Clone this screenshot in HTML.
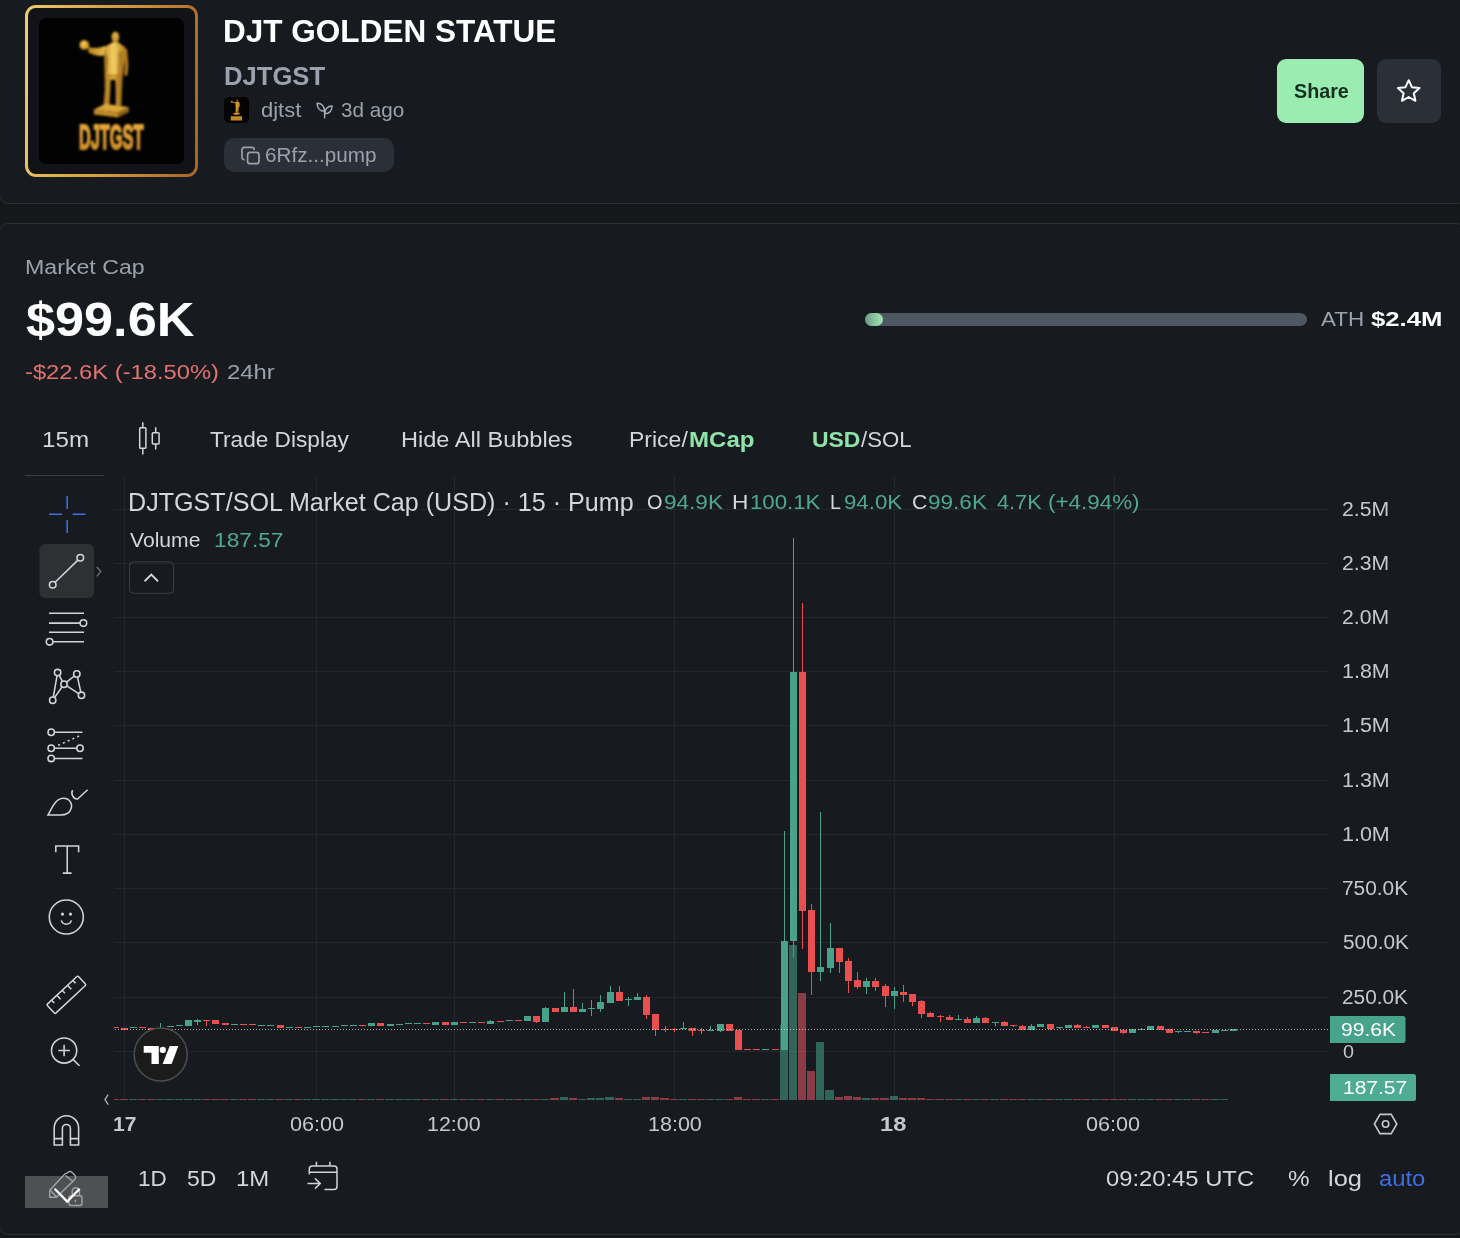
<!DOCTYPE html>
<html>
<head>
<meta charset="utf-8">
<title>DJT GOLDEN STATUE (DJTGST)</title>
<style>
html,body{margin:0;padding:0;overflow:hidden;}
body{width:1460px;height:1238px;overflow:hidden;background:#15171b;font-family:"Liberation Sans",sans-serif;position:relative;}
.card{position:absolute;background:#171a1f;border:1px solid #2d2f34;box-sizing:border-box;}
#card1{left:-1px;top:-14px;width:1466px;height:218px;border-radius:9px;}
#card2{left:-1px;top:223px;width:1466px;height:1012px;border-radius:9px;}
.t{position:absolute;white-space:nowrap;line-height:1;transform-origin:0 0;}
.abs{position:absolute;}
#ov{position:absolute;left:0;top:0;width:1460px;height:1238px;}
</style>
</head>
<body>
<div class="card" id="card1"></div>
<div class="card" id="card2"></div>

<div class="abs" id="imgbox" style="left:25px;top:5px;width:173px;height:172px;border-radius:11px;background:linear-gradient(97deg,#edcd72 0%,#e3b350 22%,#d09b3f 52%,#b7782f 82%,#a4642a 100%);"></div>
<div class="abs" id="imgin" style="left:28px;top:8px;width:167px;height:166px;border-radius:8px;background:#121317;"></div>
<div class="abs" id="imgblk" style="left:39px;top:18px;width:145px;height:146px;border-radius:7px;background:#020202;"></div>
<div class="abs" id="ava" style="left:224px;top:97px;width:25px;height:26px;border-radius:5px;background:#040302;"></div>
<div class="abs" id="pill" style="left:224px;top:138px;width:170px;height:34px;border-radius:10px;background:#2a2f38;"></div>
<div class="abs" id="share" style="left:1277px;top:59px;width:87px;height:64px;border-radius:9px;background:#9aecb1;"></div>
<div class="abs" id="starb" style="left:1377px;top:59px;width:64px;height:64px;border-radius:9px;background:#2a2f38;"></div>
<div class="abs" id="bar" style="left:865px;top:313px;width:442px;height:13px;border-radius:7px;background:#4d5762;"></div>
<div class="abs" id="barf" style="left:865px;top:313px;width:18px;height:13px;border-radius:7px;background:linear-gradient(90deg,#6d9a83,#a3e8b4);"></div>
<div class="abs" id="uline" style="left:25px;top:475px;width:79px;height:1px;background:#3a3e46;"></div>

<svg id="ov" width="1460" height="1238" viewBox="0 0 1460 1238">
<g stroke="#23262c" stroke-width="1" shape-rendering="crispEdges">
<path d="M114 509.5H1328"/>
<path d="M114 563.5H1328"/>
<path d="M114 617.5H1328"/>
<path d="M114 671.5H1328"/>
<path d="M114 725.5H1328"/>
<path d="M114 780.5H1328"/>
<path d="M114 834.5H1328"/>
<path d="M114 888.5H1328"/>
<path d="M114 942.5H1328"/>
<path d="M114 997.5H1328"/>
<path d="M114 1051.5H1328"/>
<path d="M124.5 476V1100"/>
<path d="M316.5 476V1100"/>
<path d="M454.5 476V1100"/>
<path d="M674.5 476V1100"/>
<path d="M894.5 476V1100"/>
<path d="M1114.5 476V1100"/>
</g>
<g shape-rendering="crispEdges"><rect x="114" y="1098.6" width="5" height="1.4" fill="rgba(253,94,109,0.5)"/>
<rect x="120" y="1098.6" width="8" height="1.4" fill="rgba(253,94,109,0.5)"/>
<rect x="129" y="1098.6" width="8" height="1.4" fill="rgba(71,176,151,0.5)"/>
<rect x="138" y="1098.6" width="8" height="1.4" fill="rgba(253,94,109,0.5)"/>
<rect x="147" y="1098.6" width="8" height="1.4" fill="rgba(253,94,109,0.5)"/>
<rect x="156" y="1098.6" width="8" height="1.4" fill="rgba(71,176,151,0.5)"/>
<rect x="165" y="1098.6" width="9" height="1.4" fill="rgba(71,176,151,0.5)"/>
<rect x="175" y="1098.6" width="8" height="1.4" fill="rgba(71,176,151,0.5)"/>
<rect x="184" y="1098.6" width="8" height="1.4" fill="rgba(71,176,151,0.5)"/>
<rect x="193" y="1098.6" width="8" height="1.4" fill="rgba(71,176,151,0.5)"/>
<rect x="202" y="1098.6" width="8" height="1.4" fill="rgba(253,94,109,0.5)"/>
<rect x="211" y="1098.6" width="8" height="1.4" fill="rgba(253,94,109,0.5)"/>
<rect x="220" y="1098.6" width="9" height="1.4" fill="rgba(253,94,109,0.5)"/>
<rect x="230" y="1098.6" width="8" height="1.4" fill="rgba(71,176,151,0.5)"/>
<rect x="239" y="1098.6" width="8" height="1.4" fill="rgba(253,94,109,0.5)"/>
<rect x="248" y="1098.6" width="8" height="1.4" fill="rgba(253,94,109,0.5)"/>
<rect x="257" y="1098.6" width="8" height="1.4" fill="rgba(71,176,151,0.5)"/>
<rect x="266" y="1098.6" width="8" height="1.4" fill="rgba(71,176,151,0.5)"/>
<rect x="275" y="1098.6" width="9" height="1.4" fill="rgba(253,94,109,0.5)"/>
<rect x="285" y="1098.6" width="8" height="1.4" fill="rgba(71,176,151,0.5)"/>
<rect x="294" y="1098.6" width="8" height="1.4" fill="rgba(253,94,109,0.5)"/>
<rect x="303" y="1098.6" width="8" height="1.4" fill="rgba(71,176,151,0.5)"/>
<rect x="312" y="1098.6" width="8" height="1.4" fill="rgba(71,176,151,0.5)"/>
<rect x="321" y="1098.6" width="8" height="1.4" fill="rgba(71,176,151,0.5)"/>
<rect x="330" y="1098.6" width="9" height="1.4" fill="rgba(71,176,151,0.5)"/>
<rect x="340" y="1098.6" width="8" height="1.4" fill="rgba(71,176,151,0.5)"/>
<rect x="349" y="1098.6" width="8" height="1.4" fill="rgba(71,176,151,0.5)"/>
<rect x="358" y="1098.6" width="8" height="1.4" fill="rgba(253,94,109,0.5)"/>
<rect x="367" y="1098.6" width="8" height="1.4" fill="rgba(71,176,151,0.5)"/>
<rect x="376" y="1098.6" width="8" height="1.4" fill="rgba(253,94,109,0.5)"/>
<rect x="385" y="1098.6" width="9" height="1.4" fill="rgba(71,176,151,0.5)"/>
<rect x="395" y="1098.6" width="8" height="1.4" fill="rgba(71,176,151,0.5)"/>
<rect x="404" y="1098.6" width="8" height="1.4" fill="rgba(71,176,151,0.5)"/>
<rect x="413" y="1098.6" width="8" height="1.4" fill="rgba(71,176,151,0.5)"/>
<rect x="422" y="1098.6" width="8" height="1.4" fill="rgba(253,94,109,0.5)"/>
<rect x="431" y="1098.6" width="8" height="1.4" fill="rgba(71,176,151,0.5)"/>
<rect x="440" y="1098.6" width="9" height="1.4" fill="rgba(253,94,109,0.5)"/>
<rect x="450" y="1098.6" width="8" height="1.4" fill="rgba(71,176,151,0.5)"/>
<rect x="459" y="1098.6" width="8" height="1.4" fill="rgba(253,94,109,0.5)"/>
<rect x="468" y="1098.6" width="8" height="1.4" fill="rgba(71,176,151,0.5)"/>
<rect x="477" y="1098.6" width="8" height="1.4" fill="rgba(253,94,109,0.5)"/>
<rect x="486" y="1098.6" width="8" height="1.4" fill="rgba(71,176,151,0.5)"/>
<rect x="495" y="1098.6" width="9" height="1.4" fill="rgba(253,94,109,0.5)"/>
<rect x="505" y="1098.6" width="8" height="1.4" fill="rgba(71,176,151,0.5)"/>
<rect x="514" y="1098.6" width="8" height="1.4" fill="rgba(253,94,109,0.5)"/>
<rect x="523" y="1098.6" width="8" height="1.4" fill="rgba(71,176,151,0.5)"/>
<rect x="532" y="1098.6" width="8" height="1.4" fill="rgba(253,94,109,0.5)"/>
<rect x="541" y="1098.6" width="8" height="1.4" fill="rgba(71,176,151,0.5)"/>
<rect x="550" y="1097.6" width="9" height="2.4" fill="rgba(253,94,109,0.5)"/>
<rect x="560" y="1097.2" width="8" height="2.8" fill="rgba(71,176,151,0.5)"/>
<rect x="569" y="1097.6" width="8" height="2.4" fill="rgba(253,94,109,0.5)"/>
<rect x="578" y="1098.6" width="8" height="1.4" fill="rgba(71,176,151,0.5)"/>
<rect x="587" y="1097.6" width="8" height="2.4" fill="rgba(71,176,151,0.5)"/>
<rect x="596" y="1098.0" width="8" height="2.0" fill="rgba(71,176,151,0.5)"/>
<rect x="605" y="1097.2" width="9" height="2.8" fill="rgba(71,176,151,0.5)"/>
<rect x="615" y="1097.6" width="8" height="2.4" fill="rgba(253,94,109,0.5)"/>
<rect x="624" y="1098.6" width="8" height="1.4" fill="rgba(71,176,151,0.5)"/>
<rect x="633" y="1098.6" width="8" height="1.4" fill="rgba(71,176,151,0.5)"/>
<rect x="642" y="1097.4" width="8" height="2.6" fill="rgba(253,94,109,0.5)"/>
<rect x="651" y="1097.0" width="8" height="3.0" fill="rgba(253,94,109,0.5)"/>
<rect x="660" y="1098.0" width="9" height="2.0" fill="rgba(253,94,109,0.5)"/>
<rect x="670" y="1098.6" width="8" height="1.4" fill="rgba(253,94,109,0.5)"/>
<rect x="679" y="1098.6" width="8" height="1.4" fill="rgba(71,176,151,0.5)"/>
<rect x="688" y="1098.6" width="8" height="1.4" fill="rgba(253,94,109,0.5)"/>
<rect x="697" y="1098.6" width="8" height="1.4" fill="rgba(253,94,109,0.5)"/>
<rect x="706" y="1098.6" width="8" height="1.4" fill="rgba(71,176,151,0.5)"/>
<rect x="715" y="1098.6" width="9" height="1.4" fill="rgba(71,176,151,0.5)"/>
<rect x="725" y="1098.6" width="8" height="1.4" fill="rgba(253,94,109,0.5)"/>
<rect x="734" y="1097.0" width="8" height="3.0" fill="rgba(253,94,109,0.5)"/>
<rect x="743" y="1098.6" width="8" height="1.4" fill="rgba(253,94,109,0.5)"/>
<rect x="752" y="1098.6" width="8" height="1.4" fill="rgba(253,94,109,0.5)"/>
<rect x="761" y="1098.6" width="8" height="1.4" fill="rgba(71,176,151,0.5)"/>
<rect x="770" y="1098.6" width="9" height="1.4" fill="rgba(253,94,109,0.5)"/>
<rect x="780" y="1025.0" width="8" height="75.0" fill="rgba(71,176,151,0.5)"/>
<rect x="789" y="945.0" width="8" height="155.0" fill="rgba(71,176,151,0.5)"/>
<rect x="798" y="993.0" width="8" height="107.0" fill="rgba(253,94,109,0.5)"/>
<rect x="807" y="1071.0" width="8" height="29.0" fill="rgba(253,94,109,0.5)"/>
<rect x="816" y="1042.0" width="8" height="58.0" fill="rgba(71,176,151,0.5)"/>
<rect x="825" y="1090.4" width="9" height="9.6" fill="rgba(71,176,151,0.5)"/>
<rect x="835" y="1096.5" width="8" height="3.5" fill="rgba(253,94,109,0.5)"/>
<rect x="844" y="1096.0" width="8" height="4.0" fill="rgba(253,94,109,0.5)"/>
<rect x="853" y="1096.8" width="8" height="3.2" fill="rgba(253,94,109,0.5)"/>
<rect x="862" y="1097.6" width="8" height="2.4" fill="rgba(71,176,151,0.5)"/>
<rect x="871" y="1097.6" width="8" height="2.4" fill="rgba(253,94,109,0.5)"/>
<rect x="880" y="1097.6" width="9" height="2.4" fill="rgba(253,94,109,0.5)"/>
<rect x="890" y="1096.4" width="8" height="3.6" fill="rgba(71,176,151,0.5)"/>
<rect x="899" y="1097.6" width="8" height="2.4" fill="rgba(253,94,109,0.5)"/>
<rect x="908" y="1097.8" width="8" height="2.2" fill="rgba(253,94,109,0.5)"/>
<rect x="917" y="1097.8" width="8" height="2.2" fill="rgba(253,94,109,0.5)"/>
<rect x="926" y="1098.6" width="8" height="1.4" fill="rgba(253,94,109,0.5)"/>
<rect x="935" y="1098.6" width="9" height="1.4" fill="rgba(253,94,109,0.5)"/>
<rect x="945" y="1098.6" width="8" height="1.4" fill="rgba(253,94,109,0.5)"/>
<rect x="954" y="1098.6" width="8" height="1.4" fill="rgba(71,176,151,0.5)"/>
<rect x="963" y="1098.6" width="8" height="1.4" fill="rgba(253,94,109,0.5)"/>
<rect x="972" y="1098.6" width="8" height="1.4" fill="rgba(71,176,151,0.5)"/>
<rect x="981" y="1098.6" width="8" height="1.4" fill="rgba(253,94,109,0.5)"/>
<rect x="990" y="1098.6" width="9" height="1.4" fill="rgba(71,176,151,0.5)"/>
<rect x="1000" y="1098.6" width="8" height="1.4" fill="rgba(253,94,109,0.5)"/>
<rect x="1009" y="1098.6" width="8" height="1.4" fill="rgba(253,94,109,0.5)"/>
<rect x="1018" y="1098.6" width="8" height="1.4" fill="rgba(253,94,109,0.5)"/>
<rect x="1027" y="1098.6" width="8" height="1.4" fill="rgba(71,176,151,0.5)"/>
<rect x="1036" y="1098.6" width="8" height="1.4" fill="rgba(71,176,151,0.5)"/>
<rect x="1045" y="1098.6" width="9" height="1.4" fill="rgba(253,94,109,0.5)"/>
<rect x="1055" y="1098.6" width="8" height="1.4" fill="rgba(71,176,151,0.5)"/>
<rect x="1064" y="1098.6" width="8" height="1.4" fill="rgba(71,176,151,0.5)"/>
<rect x="1073" y="1098.6" width="8" height="1.4" fill="rgba(253,94,109,0.5)"/>
<rect x="1082" y="1098.6" width="8" height="1.4" fill="rgba(253,94,109,0.5)"/>
<rect x="1091" y="1098.6" width="8" height="1.4" fill="rgba(71,176,151,0.5)"/>
<rect x="1100" y="1098.6" width="9" height="1.4" fill="rgba(253,94,109,0.5)"/>
<rect x="1110" y="1098.6" width="8" height="1.4" fill="rgba(253,94,109,0.5)"/>
<rect x="1119" y="1098.6" width="8" height="1.4" fill="rgba(253,94,109,0.5)"/>
<rect x="1128" y="1098.6" width="8" height="1.4" fill="rgba(71,176,151,0.5)"/>
<rect x="1137" y="1098.6" width="8" height="1.4" fill="rgba(71,176,151,0.5)"/>
<rect x="1146" y="1098.6" width="8" height="1.4" fill="rgba(71,176,151,0.5)"/>
<rect x="1155" y="1098.6" width="9" height="1.4" fill="rgba(253,94,109,0.5)"/>
<rect x="1165" y="1098.6" width="8" height="1.4" fill="rgba(253,94,109,0.5)"/>
<rect x="1174" y="1098.6" width="8" height="1.4" fill="rgba(71,176,151,0.5)"/>
<rect x="1183" y="1098.6" width="8" height="1.4" fill="rgba(71,176,151,0.5)"/>
<rect x="1192" y="1098.6" width="8" height="1.4" fill="rgba(253,94,109,0.5)"/>
<rect x="1201" y="1098.6" width="8" height="1.4" fill="rgba(253,94,109,0.5)"/>
<rect x="1210" y="1098.6" width="9" height="1.4" fill="rgba(71,176,151,0.5)"/>
<rect x="1220" y="1098.6" width="8" height="1.4" fill="rgba(71,176,151,0.5)"/>
<rect x="114" y="1027.3" width="5" height="1.0" fill="#e94f4f"/>
<rect x="121" y="1027.6" width="7" height="2.0" fill="#e94f4f"/>
<rect x="130" y="1027.0" width="7" height="1.0" fill="#48a28a"/>
<rect x="139" y="1027.0" width="7" height="1.0" fill="#e94f4f"/>
<rect x="148" y="1028.0" width="7" height="2.2" fill="#e94f4f"/>
<rect x="160" y="1022.6" width="1" height="5.4" fill="#48a28a"/>
<rect x="157" y="1027.5" width="7" height="1.0" fill="#48a28a"/>
<rect x="167" y="1026.0" width="7" height="1.0" fill="#48a28a"/>
<rect x="176" y="1025.0" width="7" height="1.0" fill="#48a28a"/>
<rect x="185" y="1020.3" width="7" height="5.7" fill="#48a28a"/>
<rect x="197" y="1019.3" width="1" height="5.6" fill="#48a28a"/>
<rect x="194" y="1019.9" width="7" height="2.0" fill="#48a28a"/>
<rect x="206" y="1020.0" width="1" height="5.6" fill="#e94f4f"/>
<rect x="203" y="1020.0" width="7" height="1.0" fill="#e94f4f"/>
<rect x="212" y="1020.0" width="7" height="4.1" fill="#e94f4f"/>
<rect x="222" y="1022.6" width="7" height="2.3" fill="#e94f4f"/>
<rect x="231" y="1023.8" width="7" height="1.0" fill="#48a28a"/>
<rect x="240" y="1023.8" width="7" height="1.0" fill="#e94f4f"/>
<rect x="249" y="1023.8" width="7" height="1.0" fill="#e94f4f"/>
<rect x="258" y="1025.0" width="7" height="1.0" fill="#48a28a"/>
<rect x="267" y="1025.0" width="7" height="1.0" fill="#48a28a"/>
<rect x="277" y="1024.9" width="7" height="3.0" fill="#e94f4f"/>
<rect x="286" y="1027.2" width="7" height="1.0" fill="#48a28a"/>
<rect x="295" y="1027.2" width="7" height="1.0" fill="#e94f4f"/>
<rect x="304" y="1027.2" width="7" height="1.0" fill="#48a28a"/>
<rect x="313" y="1026.3" width="7" height="1.0" fill="#48a28a"/>
<rect x="322" y="1026.0" width="7" height="1.0" fill="#48a28a"/>
<rect x="332" y="1026.0" width="7" height="1.0" fill="#48a28a"/>
<rect x="341" y="1025.1" width="7" height="1.0" fill="#48a28a"/>
<rect x="350" y="1025.1" width="7" height="1.0" fill="#48a28a"/>
<rect x="359" y="1025.1" width="7" height="1.0" fill="#e94f4f"/>
<rect x="368" y="1023.2" width="7" height="2.7" fill="#48a28a"/>
<rect x="377" y="1023.2" width="7" height="2.7" fill="#e94f4f"/>
<rect x="387" y="1024.0" width="7" height="1.9" fill="#48a28a"/>
<rect x="396" y="1024.0" width="7" height="1.0" fill="#48a28a"/>
<rect x="405" y="1023.0" width="7" height="1.0" fill="#48a28a"/>
<rect x="414" y="1023.0" width="7" height="1.0" fill="#48a28a"/>
<rect x="423" y="1023.0" width="7" height="1.0" fill="#e94f4f"/>
<rect x="432" y="1022.1" width="7" height="2.7" fill="#48a28a"/>
<rect x="442" y="1022.1" width="7" height="2.7" fill="#e94f4f"/>
<rect x="451" y="1022.1" width="7" height="2.7" fill="#48a28a"/>
<rect x="460" y="1022.0" width="7" height="1.0" fill="#e94f4f"/>
<rect x="469" y="1022.0" width="7" height="1.0" fill="#48a28a"/>
<rect x="478" y="1022.0" width="7" height="1.0" fill="#e94f4f"/>
<rect x="490" y="1020.2" width="1" height="3.7" fill="#48a28a"/>
<rect x="487" y="1021.2" width="7" height="2.7" fill="#48a28a"/>
<rect x="497" y="1021.0" width="7" height="1.0" fill="#e94f4f"/>
<rect x="506" y="1020.0" width="7" height="1.0" fill="#48a28a"/>
<rect x="515" y="1020.0" width="7" height="1.0" fill="#e94f4f"/>
<rect x="524" y="1016.1" width="7" height="4.8" fill="#48a28a"/>
<rect x="536" y="1015.8" width="1" height="6.8" fill="#e94f4f"/>
<rect x="533" y="1015.8" width="7" height="6.2" fill="#e94f4f"/>
<rect x="545" y="1007.2" width="1" height="14.8" fill="#48a28a"/>
<rect x="542" y="1007.9" width="7" height="14.1" fill="#48a28a"/>
<rect x="552" y="1008.2" width="7" height="3.7" fill="#e94f4f"/>
<rect x="564" y="991.9" width="1" height="20.0" fill="#48a28a"/>
<rect x="561" y="1006.9" width="7" height="5.0" fill="#48a28a"/>
<rect x="573" y="988.9" width="1" height="23.0" fill="#e94f4f"/>
<rect x="570" y="1006.9" width="7" height="5.0" fill="#e94f4f"/>
<rect x="582" y="1002.9" width="1" height="9.0" fill="#48a28a"/>
<rect x="579" y="1009.1" width="7" height="2.8" fill="#48a28a"/>
<rect x="591" y="999.9" width="1" height="16.1" fill="#48a28a"/>
<rect x="588" y="1008.0" width="7" height="1.0" fill="#48a28a"/>
<rect x="600" y="994.9" width="1" height="17.0" fill="#48a28a"/>
<rect x="597" y="1002.1" width="7" height="6.8" fill="#48a28a"/>
<rect x="610" y="985.9" width="1" height="17.0" fill="#48a28a"/>
<rect x="607" y="992.0" width="7" height="10.9" fill="#48a28a"/>
<rect x="619" y="985.9" width="1" height="15.0" fill="#e94f4f"/>
<rect x="616" y="992.0" width="7" height="8.9" fill="#e94f4f"/>
<rect x="628" y="996.9" width="1" height="9.0" fill="#48a28a"/>
<rect x="625" y="998.6" width="7" height="1.0" fill="#48a28a"/>
<rect x="637" y="993.1" width="1" height="6.8" fill="#48a28a"/>
<rect x="634" y="997.2" width="7" height="2.7" fill="#48a28a"/>
<rect x="646" y="994.9" width="1" height="24.1" fill="#e94f4f"/>
<rect x="643" y="997.2" width="7" height="17.7" fill="#e94f4f"/>
<rect x="655" y="1013.9" width="1" height="21.8" fill="#e94f4f"/>
<rect x="652" y="1013.9" width="7" height="15.7" fill="#e94f4f"/>
<rect x="665" y="1026.2" width="1" height="5.8" fill="#e94f4f"/>
<rect x="662" y="1028.7" width="7" height="1.0" fill="#e94f4f"/>
<rect x="674" y="1027.7" width="1" height="4.6" fill="#e94f4f"/>
<rect x="671" y="1028.7" width="7" height="1.0" fill="#e94f4f"/>
<rect x="683" y="1022.0" width="1" height="7.3" fill="#48a28a"/>
<rect x="680" y="1028.3" width="7" height="1.0" fill="#48a28a"/>
<rect x="692" y="1028.0" width="1" height="7.7" fill="#e94f4f"/>
<rect x="689" y="1028.0" width="7" height="2.5" fill="#e94f4f"/>
<rect x="701" y="1028.0" width="1" height="5.8" fill="#e94f4f"/>
<rect x="698" y="1029.8" width="7" height="1.0" fill="#e94f4f"/>
<rect x="710" y="1025.9" width="1" height="4.9" fill="#48a28a"/>
<rect x="707" y="1029.8" width="7" height="1.0" fill="#48a28a"/>
<rect x="720" y="1024.0" width="1" height="7.5" fill="#48a28a"/>
<rect x="717" y="1024.0" width="7" height="6.8" fill="#48a28a"/>
<rect x="726" y="1024.0" width="7" height="6.8" fill="#e94f4f"/>
<rect x="735" y="1030.0" width="7" height="20.0" fill="#e94f4f"/>
<rect x="744" y="1049.0" width="7" height="1.0" fill="#e94f4f"/>
<rect x="753" y="1049.0" width="7" height="1.0" fill="#e94f4f"/>
<rect x="762" y="1049.0" width="7" height="1.0" fill="#48a28a"/>
<rect x="772" y="1049.0" width="7" height="1.0" fill="#e94f4f"/>
<rect x="784" y="831.0" width="1" height="219.3" fill="#48a28a"/>
<rect x="781" y="941.0" width="7" height="109.3" fill="#48a28a"/>
<rect x="793" y="537.8" width="1" height="420.6" fill="#48a28a"/>
<rect x="790" y="672.1" width="7" height="269.3" fill="#48a28a"/>
<rect x="802" y="602.8" width="1" height="346.2" fill="#e94f4f"/>
<rect x="799" y="672.1" width="7" height="238.8" fill="#e94f4f"/>
<rect x="811" y="904.1" width="1" height="91.2" fill="#e94f4f"/>
<rect x="808" y="910.1" width="7" height="61.5" fill="#e94f4f"/>
<rect x="820" y="812.1" width="1" height="168.6" fill="#48a28a"/>
<rect x="817" y="967.1" width="7" height="4.5" fill="#48a28a"/>
<rect x="830" y="923.2" width="1" height="49.5" fill="#48a28a"/>
<rect x="827" y="948.1" width="7" height="19.6" fill="#48a28a"/>
<rect x="839" y="948.1" width="1" height="24.6" fill="#e94f4f"/>
<rect x="836" y="948.1" width="7" height="13.7" fill="#e94f4f"/>
<rect x="848" y="958.4" width="1" height="34.3" fill="#e94f4f"/>
<rect x="845" y="961.1" width="7" height="19.6" fill="#e94f4f"/>
<rect x="857" y="972.2" width="1" height="16.6" fill="#e94f4f"/>
<rect x="854" y="980.2" width="7" height="6.5" fill="#e94f4f"/>
<rect x="866" y="978.3" width="1" height="15.5" fill="#48a28a"/>
<rect x="863" y="981.3" width="7" height="5.4" fill="#48a28a"/>
<rect x="875" y="978.3" width="1" height="12.5" fill="#e94f4f"/>
<rect x="872" y="981.3" width="7" height="5.4" fill="#e94f4f"/>
<rect x="885" y="984.3" width="1" height="22.6" fill="#e94f4f"/>
<rect x="882" y="986.2" width="7" height="9.8" fill="#e94f4f"/>
<rect x="894" y="987.3" width="1" height="21.5" fill="#48a28a"/>
<rect x="891" y="991.2" width="7" height="4.8" fill="#48a28a"/>
<rect x="903" y="985.2" width="1" height="16.6" fill="#e94f4f"/>
<rect x="900" y="991.5" width="7" height="3.3" fill="#e94f4f"/>
<rect x="912" y="994.2" width="1" height="11.6" fill="#e94f4f"/>
<rect x="909" y="994.2" width="7" height="7.6" fill="#e94f4f"/>
<rect x="921" y="1000.3" width="1" height="17.6" fill="#e94f4f"/>
<rect x="918" y="1001.0" width="7" height="12.8" fill="#e94f4f"/>
<rect x="930" y="1012.2" width="1" height="4.6" fill="#e94f4f"/>
<rect x="927" y="1013.1" width="7" height="3.7" fill="#e94f4f"/>
<rect x="940" y="1015.3" width="1" height="6.2" fill="#e94f4f"/>
<rect x="937" y="1016.0" width="7" height="1.0" fill="#e94f4f"/>
<rect x="949" y="1015.1" width="1" height="4.8" fill="#e94f4f"/>
<rect x="946" y="1016.9" width="7" height="3.0" fill="#e94f4f"/>
<rect x="958" y="1015.1" width="1" height="4.9" fill="#48a28a"/>
<rect x="955" y="1019.0" width="7" height="1.0" fill="#48a28a"/>
<rect x="967" y="1017.3" width="1" height="5.6" fill="#e94f4f"/>
<rect x="964" y="1018.8" width="7" height="4.1" fill="#e94f4f"/>
<rect x="976" y="1016.3" width="1" height="6.6" fill="#48a28a"/>
<rect x="973" y="1018.1" width="7" height="4.8" fill="#48a28a"/>
<rect x="985" y="1017.3" width="1" height="5.6" fill="#e94f4f"/>
<rect x="982" y="1018.1" width="7" height="4.8" fill="#e94f4f"/>
<rect x="995" y="1021.9" width="1" height="3.7" fill="#48a28a"/>
<rect x="992" y="1021.9" width="7" height="1.0" fill="#48a28a"/>
<rect x="1004" y="1020.8" width="1" height="5.1" fill="#e94f4f"/>
<rect x="1001" y="1021.9" width="7" height="4.0" fill="#e94f4f"/>
<rect x="1013" y="1024.9" width="1" height="1.9" fill="#e94f4f"/>
<rect x="1010" y="1024.9" width="7" height="1.0" fill="#e94f4f"/>
<rect x="1022" y="1025.3" width="1" height="4.5" fill="#e94f4f"/>
<rect x="1019" y="1026.1" width="7" height="3.7" fill="#e94f4f"/>
<rect x="1031" y="1024.1" width="1" height="5.7" fill="#48a28a"/>
<rect x="1028" y="1026.1" width="7" height="3.7" fill="#48a28a"/>
<rect x="1037" y="1024.1" width="7" height="2.7" fill="#48a28a"/>
<rect x="1050" y="1024.1" width="1" height="5.6" fill="#e94f4f"/>
<rect x="1047" y="1024.1" width="7" height="4.5" fill="#e94f4f"/>
<rect x="1059" y="1027.0" width="1" height="1.7" fill="#48a28a"/>
<rect x="1056" y="1027.0" width="7" height="1.0" fill="#48a28a"/>
<rect x="1065" y="1025.2" width="7" height="2.7" fill="#48a28a"/>
<rect x="1077" y="1023.8" width="1" height="4.1" fill="#e94f4f"/>
<rect x="1074" y="1024.9" width="7" height="3.0" fill="#e94f4f"/>
<rect x="1086" y="1025.9" width="1" height="2.3" fill="#e94f4f"/>
<rect x="1083" y="1027.2" width="7" height="1.0" fill="#e94f4f"/>
<rect x="1092" y="1025.2" width="7" height="2.7" fill="#48a28a"/>
<rect x="1102" y="1025.2" width="7" height="2.7" fill="#e94f4f"/>
<rect x="1111" y="1027.1" width="7" height="4.1" fill="#e94f4f"/>
<rect x="1123" y="1029.8" width="1" height="4.6" fill="#e94f4f"/>
<rect x="1120" y="1029.8" width="7" height="3.1" fill="#e94f4f"/>
<rect x="1129" y="1029.4" width="7" height="3.5" fill="#48a28a"/>
<rect x="1141" y="1027.9" width="1" height="2.1" fill="#48a28a"/>
<rect x="1138" y="1029.0" width="7" height="1.0" fill="#48a28a"/>
<rect x="1147" y="1026.2" width="7" height="3.6" fill="#48a28a"/>
<rect x="1157" y="1026.2" width="7" height="3.6" fill="#e94f4f"/>
<rect x="1166" y="1029.4" width="7" height="3.5" fill="#e94f4f"/>
<rect x="1178" y="1031.0" width="1" height="2.0" fill="#48a28a"/>
<rect x="1175" y="1031.0" width="7" height="1.0" fill="#48a28a"/>
<rect x="1184" y="1031.0" width="7" height="1.0" fill="#48a28a"/>
<rect x="1196" y="1030.9" width="1" height="2.7" fill="#e94f4f"/>
<rect x="1193" y="1030.9" width="7" height="2.0" fill="#e94f4f"/>
<rect x="1202" y="1032.0" width="7" height="1.0" fill="#e94f4f"/>
<rect x="1212" y="1029.8" width="7" height="3.1" fill="#48a28a"/>
<rect x="1221" y="1029.5" width="7" height="1.0" fill="#48a28a"/>
<rect x="1230" y="1028.6" width="7" height="2.0" fill="#48a28a"/></g>
<path d="M115 1029.5H1329" stroke="rgba(232,234,234,0.68)" stroke-width="1" stroke-dasharray="1 2" shape-rendering="crispEdges"/>
<path d="M1330 1016H1403A2.5 2.5 0 0 1 1405.5 1018.5V1040.5A2.5 2.5 0 0 1 1403 1043H1330Z" fill="#47a38a"/>
<path d="M1330 1074H1413.5A2.5 2.5 0 0 1 1416 1076.5V1098.5A2.5 2.5 0 0 1 1413.5 1101H1330Z" fill="#4eac93"/>
<g stroke="#3c6fe0" stroke-width="1.55" fill="none"><path d="M67.2 496v13M67.2 520v13M49 514.3h13M72.6 514.3h13"/></g>
<rect x="39.3" y="544" width="54.7" height="54" rx="6" fill="#2f3033"/>
<g stroke="#d1d4dc" stroke-width="1.55" fill="none"><circle cx="52.7" cy="584.7" r="3.3"/><circle cx="80.3" cy="557.7" r="3.3"/><path d="M55.1 582.3L77.9 560.1"/></g>
<path d="M96.8 566.8l4 4.8l-4 4.8" stroke="#787b86" stroke-width="1.2" fill="none"/>
<g stroke="#d1d4dc" stroke-width="1.55" fill="none"><path d="M49 613.3h35M49 623.1h31M49 632.2h35M53 641.8h31"/><circle cx="83.4" cy="623.1" r="3.3"/><circle cx="49.6" cy="641.8" r="3.3"/></g>
<g stroke="#d1d4dc" stroke-width="1.55" fill="none"><circle cx="57.6" cy="672.6" r="3.2"/><circle cx="76.8" cy="674" r="3.2"/><circle cx="64" cy="684.2" r="3.2"/><circle cx="52.7" cy="700.2" r="3.2"/><circle cx="81.5" cy="695.3" r="3.2"/><path d="M53.3 697L57 675.8M59.2 675.4L62.4 681.4M66.5 682.2L74.3 676M77.5 677.1L80.8 692.2M54.6 697.6L62.1 686.8M66.8 685.8L78.7 693.7"/></g>
<g stroke="#d1d4dc" stroke-width="1.55" fill="none"><circle cx="51.2" cy="732.2" r="3.2"/><circle cx="51.2" cy="748.2" r="3.2"/><circle cx="80" cy="748.2" r="3.2"/><circle cx="51.2" cy="758.4" r="3.2"/><path d="M54.4 732.2H82.5M54.4 748.2H76.8M54.4 758.4H82.5"/><path d="M58.2 745.3L79.1 736" stroke-dasharray="2 3.2"/></g>
<g stroke="#d1d4dc" stroke-width="1.55" fill="none"><path d="M48 815C52 808 55.5 798.6 63 798.2C69.5 798 72.6 803.5 71.2 808.2C69.8 813 66 815 60.5 815Z"/><path d="M72.6 790.2C70.5 794 73.5 799.5 77.6 799L87.6 789.8"/></g>
<g stroke="#d1d4dc" stroke-width="1.55" fill="none"><path d="M55.8 852.3V846H78.6V852.3M67.2 846V873M62.8 873.1H71.6"/></g>
<g stroke="#d1d4dc" stroke-width="1.55" fill="none"><circle cx="66.3" cy="917" r="17"/><path d="M61.3 920.4C62.8 925.4 69.9 925.4 71.4 920.4"/></g><circle cx="62.5" cy="914.1" r="1.6" fill="#d1d4dc"/><circle cx="70.5" cy="914.1" r="1.6" fill="#d1d4dc"/>
<g stroke="#d1d4dc" stroke-width="1.55" fill="none" transform="translate(66.4 994.8) rotate(-43)"><rect x="-21.3" y="-6.2" width="42.6" height="12.4" rx="1.4"/><path d="M-14.5 -6.2v4M-7.3 -6.2v5.5M0 -6.2v4M7.3 -6.2v5.5M14.5 -6.2v4"/></g>
<g stroke="#d1d4dc" stroke-width="1.55" fill="none"><circle cx="64.1" cy="1050.5" r="12.6"/><path d="M58.3 1050.5h11.6M64.1 1044.7v11.6M73.2 1059.6L79.5 1065.8"/></g>
<g stroke="#d1d4dc" stroke-width="1.55" fill="none"><path d="M54.2 1145V1128A12.2 12.2 0 0 1 78.6 1128V1145H70.4V1128.4A4 4 0 0 0 62.4 1128.4V1145Z"/><path d="M54.2 1138.6H62.4M70.4 1138.6H78.6"/></g>
<rect x="25" y="1176" width="83" height="32" fill="#4f5052"/>
<g stroke="#a3a4a6" stroke-width="1.4" fill="none" stroke-linejoin="round"><path d="M64.6 1174.2L49.7 1190.3V1197.3H56.5L74.4 1179.7A3.5 3.5 0 0 0 74.4 1174.8L72.4 1172.8A3.5 3.5 0 0 0 67.5 1172.8Z"/><path d="M65.6 1175.6L72.8 1181.2"/><path d="M50.5 1190.6L56.2 1196.6"/><rect x="69" y="1195.7" width="13" height="9.8" rx="2.2"/><path d="M72.2 1195.7V1191.3A3.6 3.6 0 0 1 79.4 1191.3V1195.7"/><path d="M75.4 1199.6V1202.2"/></g>
<path d="M54.6 1188.8L67.2 1201.6L79.7 1188.8" stroke="#ffffff" stroke-width="2.3" fill="none"/>
<rect x="129.5" y="561.8" width="44" height="31.5" rx="4" fill="none" stroke="#3a3d45" stroke-width="1"/>
<path d="M144.6 581.2L151.3 574.6L158 581.2" stroke="#d1d4dc" stroke-width="1.9" fill="none"/>
<g stroke="#d4d6dc" stroke-width="1.5" fill="none"><rect x="139.7" y="427.8" width="6.2" height="20.5" rx="0.8"/><path d="M142.8 422.2V427.8M142.8 448.3V454.5"/><rect x="152.3" y="432.8" width="6.8" height="11.1" rx="0.8"/><path d="M155.7 427.3V432.8M155.7 443.9V449.4"/></g>
<path d="M108.2 1094.5L105 1099.6L108.2 1104.7" stroke="#b2b5be" stroke-width="1.3" fill="none"/>
<g stroke="#d1d4dc" stroke-width="1.5" fill="none"><path d="M309.3 1174.5V1169A3 3 0 0 1 312.3 1166H334A3 3 0 0 1 337 1169V1186.6A3 3 0 0 1 334 1189.6H324.5"/><path d="M309.3 1172.3H337M316.4 1161.8V1166M329.9 1161.8V1166"/><path d="M307.5 1183.5H320M315 1178.4L320.2 1183.5L315 1188.6"/></g>
<g stroke="#c5c8ce" stroke-width="1.6" fill="none"><path d="M1374.4 1124L1380 1114.4H1391.2L1396.8 1124L1391.2 1133.6H1380Z"/><circle cx="1385.6" cy="1124" r="3.2"/></g>
<circle cx="160.7" cy="1054.5" r="26.5" fill="#1c1b1b" stroke="#4c4d50" stroke-width="1.5"/>
<g fill="#ffffff"><path d="M143.7 1046.1H158.8V1064.1H151.5V1052.8H143.7Z"/><circle cx="162.8" cy="1049.9" r="3.1"/><path d="M169.7 1046.1H178.4L171.6 1064.1H162.6Z"/></g>
<path d="M1408.7 80.2L1411.9 87.2L1419.5 88.1L1413.8 93.3L1415.4 100.8L1408.7 97L1402 100.8L1403.6 93.3L1397.9 88.1L1405.5 87.2Z" stroke="#ffffff" stroke-width="2" fill="none" stroke-linejoin="round"/>
<g stroke="#9ba1ad" stroke-width="1.7" fill="none"><rect x="247.6" y="152.3" width="11.4" height="11.4" rx="2.5"/><path d="M244.6 159.6H244.2A2.2 2.2 0 0 1 242 157.4V149.6A2.2 2.2 0 0 1 244.2 147.4H252A2.2 2.2 0 0 1 254.2 149.6V150"/></g>
<g stroke="#a3a9b5" stroke-width="1.5" fill="none" stroke-linecap="round" stroke-linejoin="round"><path d="M324.6 110.6V117.7"/><path d="M324.5 111.3C320.3 111.3 317.2 108.4 317.1 103.3C321.4 103.1 324.6 106 324.5 111.3Z"/><path d="M324.8 113.8C324.6 109.4 327.5 106 332 106C332.2 110.5 329.3 113.9 324.8 113.8Z"/></g>
<defs>
<linearGradient id="sgold" gradientUnits="userSpaceOnUse" x1="103" y1="0" x2="130" y2="0"><stop offset="0" stop-color="#c8922c"/><stop offset="0.4" stop-color="#f4d062"/><stop offset="0.75" stop-color="#c08a26"/><stop offset="1" stop-color="#8c5e14"/></linearGradient>
<linearGradient id="sarm" gradientUnits="userSpaceOnUse" x1="88" y1="0" x2="106" y2="0"><stop offset="0" stop-color="#b8821f"/><stop offset="1" stop-color="#e9bd4c"/></linearGradient>
<linearGradient id="sleg" gradientUnits="userSpaceOnUse" x1="103" y1="0" x2="124" y2="0"><stop offset="0" stop-color="#a87420"/><stop offset="0.5" stop-color="#d7a138"/><stop offset="1" stop-color="#8c5e14"/></linearGradient>
<linearGradient id="sgold2" x1="0" y1="0" x2="0" y2="1"><stop offset="0" stop-color="#ecad40"/><stop offset="1" stop-color="#c98824"/></linearGradient>
<filter id="sbl" x="-20%" y="-20%" width="140%" height="140%"><feGaussianBlur stdDeviation="0.8"/></filter>
</defs>
<g filter="url(#sbl)">
<circle cx="84.3" cy="44.9" r="4.9" fill="#d39a30"/>
<circle cx="83.6" cy="44" r="2.6" fill="#efc14e"/>
<path d="M88.4 46.8Q96 49.8 105.4 45.8L104.8 55.6Q97 57.2 88.2 52.2Z" fill="url(#sarm)"/>
<path d="M105.2 46.5L109 44.6L112.5 42.3H118.5L121 44.5L124.8 47.1L125.4 55L123.8 66L122.8 76H104.8L104.3 62L104.4 54Z" fill="url(#sgold)"/><path d="M104.4 50L108.5 58L107 75H104.8Z" fill="#9a6a1a" opacity="0.75"/><path d="M118 52L123.5 50L122.8 75H117.5Z" fill="#9a6a1a" opacity="0.55"/>
<path d="M124.8 47.1L127.2 50L128.4 65L127.6 74.6L125.6 76.4L124.2 74L124.8 66L124 56Z" fill="#b07c22"/>
<path d="M104.8 75H110.8L110.2 90L109.4 104.6L103.4 105.6L104.8 90Z" fill="url(#sleg)"/>
<path d="M115.2 75H122.8L122 90L121.4 105.6L115.8 106.2L115.8 90Z" fill="url(#sleg)"/>
<path d="M104.8 74H122.8V78L115.2 80H110.8L104.8 78Z" fill="url(#sleg)"/>
<ellipse cx="115.4" cy="37" rx="3.9" ry="5.5" fill="#c8942e"/>
<ellipse cx="115" cy="35.8" rx="2.2" ry="3" fill="#dcaa40"/>
<path d="M93.9 109.6L105.5 103.8L129 107.2L118 112.6Z" fill="#d9a63a"/>
<path d="M93.9 109.6L118 112.6V117.6L93.9 114.4Z" fill="#c08a28"/>
<path d="M118 112.6L129 107.2V112L118 117.6Z" fill="#8c6016"/>
<text x="79" y="149.2" font-family="Liberation Sans" font-weight="bold" font-size="35" textLength="64.4" lengthAdjust="spacingAndGlyphs" fill="url(#sgold2)" stroke="url(#sgold2)" stroke-width="2" stroke-linejoin="round">DJTGST</text>
</g>
<g transform="translate(224 97) scale(0.1724 0.178) translate(-39 -18)"><g>
<circle cx="84.7" cy="44.6" r="5.3" fill="#d9a033"/>
<path d="M88 46.5L104.5 47.5L108 44.2L122 43.5L128 48L130 66L128.5 75L125.5 76L125.5 60L123.5 78L122.5 106H116.5L115.5 82L113.5 106H106.5L106.5 78L105.5 55L103 51.5L89 50Z" fill="#d49a2c"/>
<ellipse cx="115.4" cy="36.6" rx="3.7" ry="5" fill="#c9922b"/>
<path d="M94 109.5L104 106H124L130 108.5V114L120 118H100L94 115Z" fill="#d49a2c"/>
<rect x="78" y="126" width="66" height="24" fill="#c18a25"/>
</g></g>
</svg>
<div class="t" id="title" style="left:223.18px;top:15.08px;font-size:32.03px;font-weight:bold;color:#ffffff;transform:scaleX(0.9848);">DJT GOLDEN STATUE</div>
<div class="t" id="ticker" style="left:223.77px;top:62.98px;font-size:26.38px;font-weight:bold;color:#9ba1ad;transform:scaleX(0.9718);">DJTGST</div>
<div class="t" id="user" style="left:261.34px;top:99.14px;font-size:21.01px;font-weight:normal;color:#9ba1ad;transform:scaleX(1.0455);">djtst</div>
<div class="t" id="ago" style="left:340.57px;top:99.14px;font-size:21.01px;font-weight:normal;color:#9ba1ad;transform:scaleX(0.9825);">3d ago</div>
<div class="t" id="addr" style="left:265.41px;top:144.76px;font-size:20.87px;font-weight:normal;color:#9ba1ad;transform:scaleX(0.9905);">6Rfz...pump</div>
<div class="t" id="sharet" style="left:1293.57px;top:82.05px;font-size:19.71px;font-weight:bold;color:#153021;transform:scaleX(1.0020);">Share</div>
<div class="t" id="mcl" style="left:24.52px;top:257.28px;font-size:20.72px;font-weight:normal;color:#9ba1ad;transform:scaleX(1.1182);">Market Cap</div>
<div class="t" id="mcv" style="left:26.46px;top:294.86px;font-size:48.99px;font-weight:bold;color:#ffffff;transform:scaleX(1.0660);">$99.6K</div>
<div class="t" id="chg" style="left:25.46px;top:362.21px;font-size:20.58px;font-weight:normal;color:#e2716f;transform:scaleX(1.1539);">-$22.6K (-18.50%)</div>
<div class="t" id="hr" style="left:226.51px;top:362.21px;font-size:20.58px;font-weight:normal;color:#9ba1ad;transform:scaleX(1.1609);">24hr</div>
<div class="t" id="ath" style="left:1320.65px;top:308.78px;font-size:20.72px;font-weight:normal;color:#9ba1ad;transform:scaleX(1.0797);">ATH</div>
<div class="t" id="athv" style="left:1370.54px;top:308.78px;font-size:20.72px;font-weight:bold;color:#ffffff;transform:scaleX(1.2398);">$2.4M</div>
<div class="t" id="tb1" style="left:41.56px;top:428.71px;font-size:22.46px;font-weight:normal;color:#d4d6dc;transform:scaleX(1.0771);">15m</div>
<div class="t" id="tb2" style="left:210.35px;top:428.71px;font-size:22.46px;font-weight:normal;color:#d4d6dc;transform:scaleX(1.0088);">Trade Display</div>
<div class="t" id="tb3" style="left:400.99px;top:428.71px;font-size:22.46px;font-weight:normal;color:#d4d6dc;transform:scaleX(1.0493);">Hide All Bubbles</div>
<div class="t" id="tb4a" style="left:628.99px;top:428.71px;font-size:22.46px;font-weight:normal;color:#d4d6dc;transform:scaleX(1.0243);">Price/</div>
<div class="t" id="tb4b" style="left:688.54px;top:428.71px;font-size:22.46px;font-weight:bold;color:#8fe2a8;transform:scaleX(1.0707);">MCap</div>
<div class="t" id="tb5a" style="left:812.31px;top:428.71px;font-size:22.46px;font-weight:bold;color:#8fe2a8;transform:scaleX(1.0216);">USD</div>
<div class="t" id="tb5b" style="left:861.05px;top:428.71px;font-size:22.46px;font-weight:normal;color:#d4d6dc;transform:scaleX(0.9866);">/SOL</div>
<div class="t" id="leg" style="left:127.79px;top:490.24px;font-size:25.36px;font-weight:normal;color:#d4d6dc;transform:scaleX(0.9903);">DJTGST/SOL Market Cap (USD) · 15 · Pump</div>
<div class="t" id="lo" style="left:646.66px;top:492.92px;font-size:19.86px;font-weight:normal;color:#d4d6dc;transform:scaleX(0.9997);">O</div>
<div class="t" id="lov" style="left:664.22px;top:492.92px;font-size:19.86px;font-weight:normal;color:#4fa890;transform:scaleX(1.1353);">94.9K</div>
<div class="t" id="lh" style="left:732.42px;top:492.92px;font-size:19.86px;font-weight:normal;color:#d4d6dc;transform:scaleX(1.1434);">H</div>
<div class="t" id="lhv" style="left:749.74px;top:492.92px;font-size:19.86px;font-weight:normal;color:#4fa890;transform:scaleX(1.1187);">100.1K</div>
<div class="t" id="ll" style="left:830.26px;top:492.92px;font-size:19.86px;font-weight:normal;color:#d4d6dc;transform:scaleX(0.9892);">L</div>
<div class="t" id="llv" style="left:843.75px;top:492.92px;font-size:19.86px;font-weight:normal;color:#4fa890;transform:scaleX(1.1186);">94.0K</div>
<div class="t" id="lc" style="left:911.68px;top:492.92px;font-size:19.86px;font-weight:normal;color:#d4d6dc;transform:scaleX(1.0674);">C</div>
<div class="t" id="lcv" style="left:927.62px;top:492.92px;font-size:19.86px;font-weight:normal;color:#4fa890;transform:scaleX(1.1353);">99.6K</div>
<div class="t" id="ld" style="left:997.02px;top:492.92px;font-size:19.86px;font-weight:normal;color:#4fa890;transform:scaleX(1.0912);">4.7K</div>
<div class="t" id="lp" style="left:1048.13px;top:492.92px;font-size:19.86px;font-weight:normal;color:#4fa890;transform:scaleX(1.1286);">(+4.94%)</div>
<div class="t" id="vol" style="left:129.80px;top:529.66px;font-size:20.87px;font-weight:normal;color:#d4d6dc;transform:scaleX(1.0125);">Volume</div>
<div class="t" id="volv" style="left:213.98px;top:529.66px;font-size:20.87px;font-weight:normal;color:#4fa890;transform:scaleX(1.0891);">187.57</div>
<div class="t" id="t17" style="left:112.92px;top:1115.42px;font-size:19.86px;font-weight:bold;color:#c5c8ce;transform:scaleX(1.0591);">17</div>
<div class="t" id="t06" style="left:289.71px;top:1115.42px;font-size:19.86px;font-weight:normal;color:#c5c8ce;transform:scaleX(1.0887);">06:00</div>
<div class="t" id="t12" style="left:427.24px;top:1115.42px;font-size:19.86px;font-weight:normal;color:#c5c8ce;transform:scaleX(1.0783);">12:00</div>
<div class="t" id="t18h" style="left:647.53px;top:1115.42px;font-size:19.86px;font-weight:normal;color:#c5c8ce;transform:scaleX(1.0829);">18:00</div>
<div class="t" id="t18" style="left:880.45px;top:1115.42px;font-size:19.86px;font-weight:bold;color:#c5c8ce;transform:scaleX(1.1909);">18</div>
<div class="t" id="t06b" style="left:1086.31px;top:1115.42px;font-size:19.86px;font-weight:normal;color:#c5c8ce;transform:scaleX(1.0879);">06:00</div>
<div class="t" id="b1d" style="left:138.33px;top:1166.56px;font-size:22.75px;font-weight:normal;color:#d4d6dc;transform:scaleX(0.9869);">1D</div>
<div class="t" id="b5d" style="left:186.94px;top:1166.56px;font-size:22.75px;font-weight:normal;color:#d4d6dc;transform:scaleX(1.0087);">5D</div>
<div class="t" id="b1m" style="left:236.27px;top:1166.56px;font-size:22.75px;font-weight:normal;color:#d4d6dc;transform:scaleX(1.0530);">1M</div>
<div class="t" id="utc" style="left:1105.98px;top:1166.56px;font-size:22.75px;font-weight:normal;color:#d4d6dc;transform:scaleX(1.0454);">09:20:45 UTC</div>
<div class="t" id="pct" style="left:1287.78px;top:1166.56px;font-size:22.75px;font-weight:normal;color:#d4d6dc;transform:scaleX(1.0667);">%</div>
<div class="t" id="log" style="left:1327.70px;top:1166.56px;font-size:22.75px;font-weight:normal;color:#d4d6dc;transform:scaleX(1.1179);">log</div>
<div class="t" id="auto" style="left:1379.23px;top:1166.56px;font-size:22.75px;font-weight:normal;color:#3d6fe3;transform:scaleX(1.0458);">auto</div>
<div class="t" id="yl0" style="left:1342.41px;top:500.02px;font-size:19.86px;font-weight:normal;color:#c5c8ce;transform:scaleX(1.0689);">2.5M</div>
<div class="t" id="yl1" style="left:1342.30px;top:553.52px;font-size:19.86px;font-weight:normal;color:#c5c8ce;transform:scaleX(1.0668);">2.3M</div>
<div class="t" id="yl2" style="left:1342.30px;top:607.52px;font-size:19.86px;font-weight:normal;color:#c5c8ce;transform:scaleX(1.0668);">2.0M</div>
<div class="t" id="yl3" style="left:1342.35px;top:661.52px;font-size:19.86px;font-weight:normal;color:#c5c8ce;transform:scaleX(1.0804);">1.8M</div>
<div class="t" id="yl4" style="left:1342.35px;top:715.52px;font-size:19.86px;font-weight:normal;color:#c5c8ce;transform:scaleX(1.0804);">1.5M</div>
<div class="t" id="yl5" style="left:1342.35px;top:770.52px;font-size:19.86px;font-weight:normal;color:#c5c8ce;transform:scaleX(1.0804);">1.3M</div>
<div class="t" id="yl6" style="left:1342.35px;top:824.52px;font-size:19.86px;font-weight:normal;color:#c5c8ce;transform:scaleX(1.0804);">1.0M</div>
<div class="t" id="yl7" style="left:1342.42px;top:878.52px;font-size:19.86px;font-weight:normal;color:#c5c8ce;transform:scaleX(1.0490);">750.0K</div>
<div class="t" id="yl8" style="left:1342.53px;top:932.52px;font-size:19.86px;font-weight:normal;color:#c5c8ce;transform:scaleX(1.0482);">500.0K</div>
<div class="t" id="yl9" style="left:1342.37px;top:987.52px;font-size:19.86px;font-weight:normal;color:#c5c8ce;transform:scaleX(1.0473);">250.0K</div>
<div class="t" id="yl10" style="left:1342.74px;top:1043.06px;font-size:18.70px;font-weight:normal;color:#c5c8ce;transform:scaleX(1.0594);">0</div>
<div class="t" id="pl" style="left:1341.42px;top:1020.02px;font-size:19.28px;font-weight:normal;color:#ffffff;transform:scaleX(1.0912);">99.6K</div>
<div class="t" id="vl" style="left:1342.78px;top:1078.42px;font-size:19.28px;font-weight:normal;color:#ffffff;transform:scaleX(1.0901);">187.57</div>
</body>
</html>
